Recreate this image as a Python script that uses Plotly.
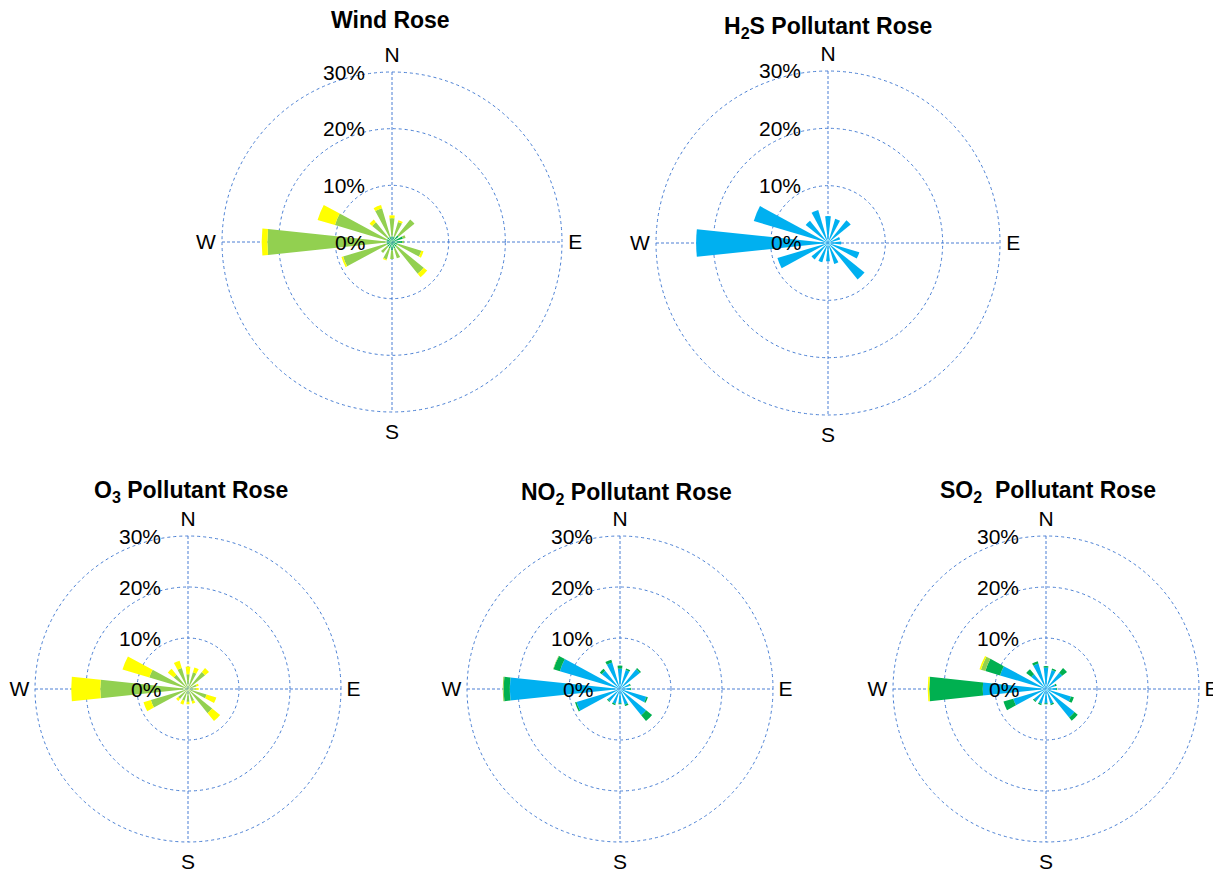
import plotly.graph_objects as go

# ---------------- data ----------------
directions = ["N", "NNE", "NE", "ENE", "E", "ESE", "SE", "SSE",
              "S", "SSW", "SW", "WSW", "W", "WNW", "NW", "NNW"]
direction_deg = [0, 22.5, 45, 67.5, 90, 112.5, 135, 157.5,
                 180, 202.5, 225, 247.5, 270, 292.5, 315, 337.5]

# Wind rose (% of time), stacked classes
wind_darkgreen = [1.0, 1.0, 1.5, 2.0, 1.8, 1.0, 1.0, 1.2, 1.5, 1.2, 1.0, 1.0, 1.0, 1.0, 1.0, 1.0]
wind_lightgreen = [3.2, 2.7, 3.6, 0.5, 0.3, 4.4, 6.2, 1.8, 1.5, 2.0, 1.5, 8.0, 21.0, 9.5, 3.5, 5.2]
wind_yellow = [0.5, 0.3, 0.0, 0.0, 0.0, 0.4, 0.8, 0.0, 0.0, 0.2, 0.0, 0.3, 1.0, 3.2, 0.6, 0.6]

# H2S pollutant rose
h2s_cyan = [4.7, 4.4, 5.1, 2.2, 2.3, 5.7, 8.2, 3.8, 3.2, 3.5, 3.7, 9.2, 23.0, 13.5, 5.0, 6.0]

# O3 pollutant rose
o3_lightgreen = [2.9, 3.4, 4.3, 1.7, 1.5, 3.8, 6.1, 2.5, 2.5, 2.4, 2.5, 7.6, 17.2, 7.9, 3.6, 4.3]
o3_yellow = [1.5, 1.0, 1.0, 0.5, 0.6, 2.0, 2.0, 0.5, 0.5, 0.8, 0.5, 1.5, 5.7, 5.5, 1.5, 1.5]

# NO2 pollutant rose
no2_cyan = [4.0, 3.9, 5.0, 2.0, 2.0, 5.4, 6.6, 3.2, 2.8, 3.0, 3.1, 8.9, 21.6, 12.3, 4.6, 5.4]
no2_darkgreen = [0.6, 0.3, 0.3, 0.2, 0.2, 0.3, 1.5, 0.3, 0.2, 0.3, 0.2, 0.3, 1.2, 1.3, 0.5, 0.6]
no2_lightgreen = [0, 0, 0, 0, 0, 0, 0, 0, 0, 0, 0, 0, 0.2, 0.1, 0, 0]

# SO2 pollutant rose
so2_cyan = [4.2, 3.9, 4.1, 1.9, 2.0, 5.1, 7.2, 3.0, 2.8, 3.0, 3.0, 6.7, 12.4, 9.4, 3.7, 5.2]
so2_darkgreen = [0.3, 0.3, 1.2, 0.3, 0.2, 0.6, 0.8, 0.3, 0.2, 0.3, 0.3, 2.0, 10.5, 3.0, 1.3, 0.5]
so2_lightgreen = [0, 0, 0, 0, 0, 0, 0, 0, 0, 0, 0, 0, 0.0, 0.9, 0, 0]
so2_yellow = [0, 0, 0, 0, 0, 0, 0, 0, 0, 0, 0, 0, 0.3, 0.3, 0, 0]

radial_ticks = [0, 10, 20, 30]
radial_labels = ["0%", "10%", "20%", "30%"]
compass_vals = [0, 90, 180, 270]
compass_text = ["N", "E", "S", "W"]

titles = ["<b>Wind Rose</b>", "<b>H<sub>2</sub>S Pollutant Rose</b>",
          "<b>O<sub>3</sub> Pollutant Rose</b>", "<b>NO<sub>2</sub> Pollutant Rose</b>",
          "<b>SO<sub>2</sub>  Pollutant Rose</b>"]

# ---------------- style ----------------
CYAN = "#00B0F0"
DGREEN = "#00B050"
LGREEN = "#92D050"
YELLOW = "#FFFF00"
GRID = "#4A7FD4"
FONT = "Liberation Sans, Arial, sans-serif"

PAGE_OFF = 8  # page body margin
W, H = 1221 - PAGE_OFF, 869 - PAGE_OFF
# (center_x, center_y_from_top, radius of 30% circle) in window pixels
geom = [(392, 242, 170), (828, 243, 172), (188, 689, 153), (620, 689, 153), (1046, 689, 153)]
title_pos = [(390, 20), (828, 27), (191, 491), (626, 493), (1048, 491)]
R30 = 30
RMAX = 31  # range slightly beyond 30 so the 30% grid circle is drawn

fig = go.Figure()

def add_stack(subplot, layers):
    for vals, color in layers:
        fig.add_trace(go.Barpolar(
            r=vals, theta=direction_deg, width=12,
            marker=dict(color=color, line=dict(width=0)),
            subplot=subplot, showlegend=False, hoverinfo="skip"))

add_stack("polar", [(wind_darkgreen, DGREEN), (wind_lightgreen, LGREEN), (wind_yellow, YELLOW)])
add_stack("polar2", [(h2s_cyan, CYAN)])
add_stack("polar3", [(o3_lightgreen, LGREEN), (o3_yellow, YELLOW)])
add_stack("polar4", [(no2_cyan, CYAN), (no2_darkgreen, DGREEN), (no2_lightgreen, LGREEN)])
add_stack("polar5", [(so2_cyan, CYAN), (so2_darkgreen, DGREEN), (so2_lightgreen, LGREEN), (so2_yellow, YELLOW)])

layout = dict(
    width=W, height=H,
    margin=dict(l=0, r=0, t=0, b=0),
    paper_bgcolor="white", plot_bgcolor="white",
    font=dict(family=FONT, color="black"),
    annotations=[], shapes=[],
)

for i, (cx0, cy0, r30) in enumerate(geom):
    cx, cy = cx0 - PAGE_OFF, cy0 - PAGE_OFF
    rad = r30 * RMAX / R30
    key = "polar" if i == 0 else f"polar{i+1}"
    layout[key] = dict(
        domain=dict(x=[(cx - rad) / W, (cx + rad) / W],
                    y=[1 - (cy + rad) / H, 1 - (cy - rad) / H]),
        bgcolor="rgba(0,0,0,0)",
        barmode="stack",
        radialaxis=dict(
            range=[0, RMAX], tickmode="array", tickvals=radial_ticks,
            angle=90, showticklabels=False,
            showline=False, ticks="",
            gridcolor=GRID, griddash="dot", gridwidth=1,
        ),
        angularaxis=dict(
            rotation=90, direction="clockwise", tickmode="array",
            tickvals=compass_vals, ticktext=compass_text,
            showline=False, showgrid=False,
            ticks="", tickfont=dict(size=21, color="black", family=FONT),
        ),
    )
    # radial tick labels, placed left of the north axis
    for rv, rl in zip(radial_ticks, radial_labels):
        ypix = cy - r30 * rv / R30
        layout["annotations"].append(dict(
            text=rl, x=(cx - 25) / W, y=1 - ypix / H, xref="paper", yref="paper",
            xanchor="right", yanchor="middle", showarrow=False,
            font=dict(size=21, color="black", family=FONT)))
    # N-S and E-W cross hairs spanning the 30% circle
    for (x0, y0, x1, y1) in [(cx, cy - r30, cx, cy + r30), (cx - r30, cy, cx + r30, cy)]:
        layout["shapes"].append(dict(
            type="line", xref="paper", yref="paper",
            x0=x0 / W, y0=1 - y0 / H, x1=x1 / W, y1=1 - y1 / H,
            line=dict(color=GRID, width=1, dash="3px,2px"), layer="below"))
    tx, ty = title_pos[i]
    layout["annotations"].append(dict(
        text=titles[i], x=(tx - PAGE_OFF) / W, y=1 - (ty - PAGE_OFF) / H,
        xref="paper", yref="paper",
        xanchor="center", yanchor="middle", showarrow=False,
        font=dict(size=23, color="black", family=FONT)))

fig.update_layout(**layout)
fig.write_html("out.html")
